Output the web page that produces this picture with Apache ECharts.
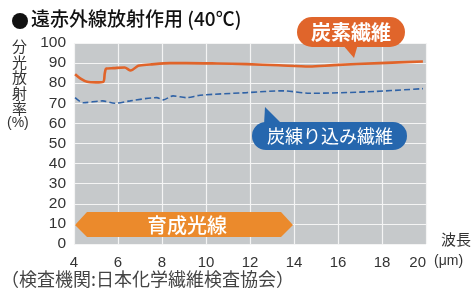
<!DOCTYPE html>
<html>
<head>
<meta charset="utf-8">
<script src="https://cdn.jsdelivr.net/npm/echarts@6/dist/echarts.min.js"></script>
<style>
    html, body { margin: 0; padding: 0; background: #fff; }
    #chart { width: 475px; height: 297px; }
</style>
</head>
<body>
<div id="chart"></div>
<script>
// 波長(μm) / 分光放射率(%) - 炭素繊維
var carbon_x = [4.05, 4.3, 4.6, 5.0, 5.33, 5.4, 5.47, 5.8, 6.3, 6.58, 6.92, 7.45, 8.36, 9.1, 10.5, 11.85, 13.3, 14.7, 15.8, 17.9, 19.86];
var carbon_y = [84.5, 82.3, 80.7, 80.4, 80.7, 85.0, 87.3, 87.5, 87.8, 86.3, 88.7, 89.3, 90.0, 90.0, 89.8, 89.5, 88.9, 88.3, 89.0, 90.0, 90.8];
// 炭練り込み繊維
var mixed_x = [4.05, 4.42, 5.3, 5.86, 6.55, 7.76, 8.05, 8.5, 9.12, 9.73, 11.85, 13.5, 14.7, 17.3, 19.86];
var mixed_y = [72.8, 70.3, 71.2, 70.0, 71.2, 72.8, 71.7, 73.7, 72.8, 74.0, 75.3, 76.2, 75.0, 75.7, 77.3];

var font_family = "'Liberation Sans', 'Noto Sans CJK JP', sans-serif";
var jp_font = "'Noto Sans CJK JP', sans-serif";

function toPairs(xs, ys) {
    var arr = [];
    for (var i = 0; i < xs.length; i++) {
        arr.push([xs[i], ys[i]]);
    }
    return arr;
}

var myChart = echarts.init(document.getElementById('chart'));

var option = {
    backgroundColor: '#fff',
    animation: false,
    grid: {
        left: 74,
        right: 49,
        top: 43,
        bottom: 53,
        show: true,
        backgroundColor: '#c6c9cb',
        borderWidth: 0
    },
    xAxis: {
        type: 'value',
        min: 4,
        max: 20,
        interval: 2,
        axisLine: { show: false },
        axisTick: { show: false },
        axisLabel: { color: '#333', fontSize: 15, fontFamily: font_family, margin: 11, alignMaxLabel: 'right' },
        splitLine: { show: true, lineStyle: { color: '#f4f4f4', width: 1.2 } }
    },
    yAxis: {
        type: 'value',
        min: 0,
        max: 100,
        interval: 10,
        axisLine: { show: false },
        axisTick: { show: false },
        axisLabel: { color: '#333', fontSize: 15.5, fontFamily: font_family, margin: 8 },
        splitLine: { show: true, lineStyle: { color: '#f4f4f4', width: 1.2 } }
    },
    series: [{
        name: '炭素繊維',
        type: 'line',
        data: toPairs(carbon_x, carbon_y),
        showSymbol: false,
        smooth: 0.3,
        lineStyle: { color: '#e0642a', width: 2.6 },
        z: 3
    }, {
        name: '炭練り込み繊維',
        type: 'line',
        data: toPairs(mixed_x, mixed_y),
        showSymbol: false,
        smooth: 0.3,
        lineStyle: { color: '#2f62a6', width: 1.6, type: [6, 3] },
        z: 3
    }],
    graphic: [
        //タイトル
        { type: 'circle', shape: { cx: 20, cy: 21, r: 8 }, style: { fill: '#111' } },
        { type: 'text', left: 31, top: 9, style: { text: '遠赤外線放射作用 (40℃)', font: '500 19px ' + jp_font, fill: '#111' } },
        //縦軸名
        { type: 'text', left: 12, top: 39, style: { text: '分\n光\n放\n射\n率', font: '15px ' + jp_font, fill: '#333', lineHeight: 15.5 } },
        { type: 'text', left: 7, top: 116, style: { text: '(%)', font: '14px ' + font_family, fill: '#333' } },
        //横軸名
        { type: 'text', left: 441, top: 232, style: { text: '波長', font: '15px ' + jp_font, fill: '#333' } },
        { type: 'text', left: 434, top: 254, style: { text: '(μm)', font: '14px ' + font_family, fill: '#333' } },
        //注記
        { type: 'text', left: 1, top: 270, style: { text: '（検査機関:日本化学繊維検査協会）', font: '18px ' + jp_font, fill: '#444' } },
        //炭素繊維 ラベル
        { type: 'polygon', shape: { points: [[342, 44], [358, 44], [354, 58]] }, style: { fill: '#e0652b' }, z: 10 },
        { type: 'rect', shape: { x: 297, y: 17, width: 108, height: 30, r: 15 }, style: { fill: '#e0652b' }, z: 10 },
        { type: 'text', x: 351, y: 32, style: { text: '炭素繊維', font: 'bold 20px ' + jp_font, fill: '#fff', textAlign: 'center', textVerticalAlign: 'middle' }, z: 11 },
        //炭練り込み繊維 ラベル
        { type: 'polygon', shape: { points: [[265, 107], [264, 125], [283, 125]] }, style: { fill: '#2667ae' }, z: 10 },
        { type: 'rect', shape: { x: 252, y: 122, width: 155, height: 28, r: 14 }, style: { fill: '#2667ae' }, z: 10 },
        { type: 'text', x: 330, y: 136, style: { text: '炭練り込み繊維', font: '18px ' + jp_font, fill: '#fff', textAlign: 'center', textVerticalAlign: 'middle' }, z: 11 },
        //育成光線 矢印
        { type: 'polygon', shape: { points: [[75, 225], [87, 212], [281, 212], [293, 225], [281, 237], [87, 237]] }, style: { fill: '#eb8a2c' }, z: 10 },
        { type: 'text', x: 187, y: 225, style: { text: '育成光線', font: '500 20px ' + jp_font, fill: '#fff', textAlign: 'center', textVerticalAlign: 'middle' }, z: 11 }
    ]
};

myChart.setOption(option);
</script>
</body>
</html>
